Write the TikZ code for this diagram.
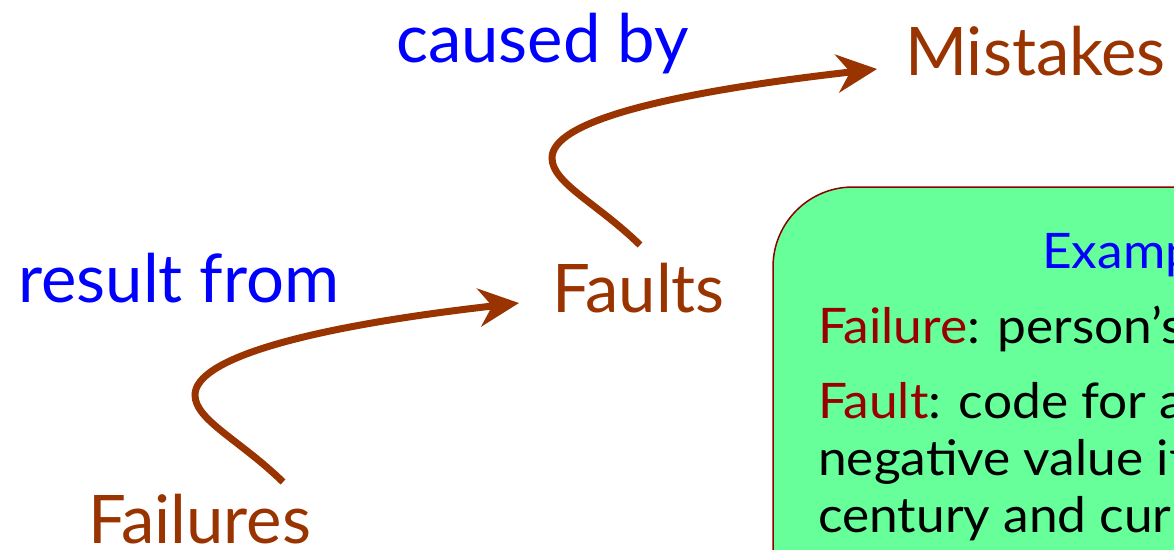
\documentclass[tikz,border=0pt]{standalone}
\usepackage{fontspec}
\setmainfont{Lato}
\newfontfamily\notefont[FakeStretch=1.05,Ligatures=TeX]{Lato}
\usetikzlibrary{arrows.meta,calc}

\definecolor{rust}{RGB}{153,51,0}
\definecolor{relblue}{RGB}{0,0,255}
\definecolor{termred}{RGB}{153,0,0}
\definecolor{boxgreen}{RGB}{102,255,153}
\definecolor{boxedge}{RGB}{140,0,0}

\begin{document}
\begin{tikzpicture}[x=1pt,y=-1pt,
  word/.style={inner sep=0pt, anchor=base west, font=\fontsize{67}{80}\selectfont},
  term/.style={word, text=rust},
  relation/.style={word, text=relblue},
  boxline/.style={inner sep=0pt, anchor=base west, font=\notefont\fontsize{49}{57}\selectfont, text=black},
  conn/.style={draw=rust, line width=7pt, -{Stealth[length=40pt,width=38pt,inset=13pt]}},
  notebox/.style={draw=boxedge, line width=1.5pt, fill=boxgreen, rounded corners=80pt}]
\useasboundingbox (0,0) rectangle (1174,549);
\clip (0,0) rectangle (1174,549);

% terms and the relations between them
\node[relation] (causedby) at (396,62) {caused by};
\node[term] (mistakes) at (905,75) {Mistakes};
\node[relation] (resultfrom) at (18,302) {result from};
\node[term] (faults) at (552,312) {Faults};
\node[term] (failures) at (88,543) {Failures};

% curved connectors
\draw[conn] ($(failures.base west)+(195,-61)$)
  .. controls +(-43,-42) and +(0,25) .. ($(failures.base west)+(107,-148)$)
  .. controls +(0,-35) and +(-220,25) .. ($(faults.base west)+(-33,-9)$);
\draw[conn] ($(faults.base west)+(88,-67)$)
  .. controls +(-43,-42) and +(0,25) .. ($(faults.base west)+(0,-154)$)
  .. controls +(0,-35) and +(-220,25) .. ($(mistakes.base west)+(-28,-6)$);

% example box
\path[notebox] (773,187) rectangle (1300,700);
\node[boxline, text=relblue] (extitle) at (1042,268) {Example};
\node[boxline] (failuredef) at (818,343) {\textcolor{termred}{Failure}: person’s};
\node[boxline] (faultdefa) at (818,418) {\textcolor{termred}{Fault}: code for a};
\node[boxline] (faultdefb) at (818,475) {negative value if};
\node[boxline] (faultdefc) at (818,532) {century and curr};
\end{tikzpicture}
\end{document}
